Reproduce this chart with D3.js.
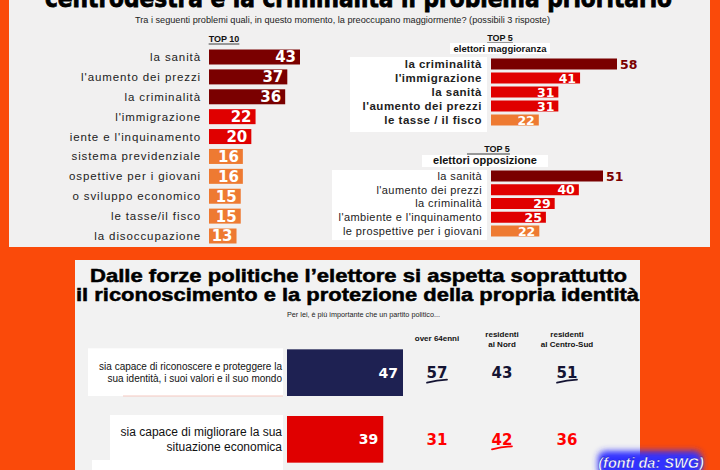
<!DOCTYPE html>
<html><head><meta charset="utf-8">
<script src="https://cdn.jsdelivr.net/npm/d3@7"></script>
<style>html,body{margin:0;padding:0;background:#FA4A0A;overflow:hidden}svg{display:block}</style>
</head><body>
<svg id="c" width="720" height="470"></svg>
<script>
// ---------- DATA ----------
const top10Labels = ["la sanità","l'aumento dei prezzi","la criminalità","l'immigrazione","iente e l'inquinamento","sistema previdenziale","ospettive per i giovani","o sviluppo economico","le tasse/il fisco","la disoccupazione"];
const top10Values = [43,37,36,22,20,16,16,15,15,13];
const maggLabels = ["la criminalità","l'immigrazione","la sanità","l'aumento dei prezzi","le tasse / il fisco"];
const maggValues = [58,41,31,31,22];
const oppLabels = ["la sanità","l'aumento dei prezzi","la criminalità","l'ambiente e l'inquinamento","le prospettive per i giovani"];
const oppValues = [51,40,29,25,22];
const partyRows = ["identita","economia"];
const partyLabels = [["sia capace di riconoscere e proteggere la","sua identità, i suoi valori e il suo mondo"],["sia capace di migliorare la sua","situazione economica"]];
const partyValues = [47,39];
const groupNames = [["over 64enni"],["residenti","al Nord"],["residenti","al Centro-Sud"]];
const groupValues = [[57,31],[43,42],[51,36]];
const underlined = [[true,false],[false,true],[true,false]];

const DARK="#7A0000", RED="#E00000", ORANGE="#EE7A32", NAVY="#1E2152";
const svg = d3.select("#c");

// panels
svg.append("rect").attr("x",9).attr("y",0).attr("width",701).attr("height",247).attr("fill","#F1F0F0");
svg.append("rect").attr("x",75).attr("y",260).attr("width",565).attr("height",215).attr("fill","#F2F2F2");

// top title
svg.append("text").attr("x",45).attr("y",7).attr("textLength",627).attr("lengthAdjust","spacingAndGlyphs")
  .attr("font-family","DejaVu Sans").attr("font-weight","bold").attr("font-size",24)
  .attr("fill","#000").attr("stroke","#000").attr("stroke-width",0.8)
  .text("centrodestra e la criminalità il problema prioritario");
svg.append("text").attr("x",135).attr("y",23).attr("textLength",415).attr("lengthAdjust","spacingAndGlyphs")
  .attr("font-family","Liberation Sans").attr("font-size",9.5).attr("fill","#222")
  .text("Tra i seguenti problemi quali, in questo momento, la preoccupano maggiormente? (possibili 3 risposte)");

function underTitle(x, y, txt, x0){
  const t = svg.append("text").attr("x",x).attr("y",y).attr("text-anchor","middle")
    .attr("font-family","Liberation Sans").attr("font-weight","bold").attr("font-size",9).attr("fill","#111").text(txt);
  const w = t.node().getComputedTextLength();
  svg.append("line").attr("x1",x0!==undefined?x0:x-w/2).attr("x2",x+w/2).attr("y1",y+2).attr("y2",y+2)
    .attr("stroke","#111").attr("stroke-width",0.8);
}
underTitle(224,42,"TOP 10");
underTitle(500,41,"TOP 5");
underTitle(497,152,"TOP 5",467);

// subgroup title boxes
svg.append("rect").attr("x",450).attr("y",43).attr("width",100).attr("height",11).attr("fill","#fff");
svg.append("text").attr("x",500).attr("y",52).attr("text-anchor","middle").attr("font-family","Liberation Sans")
  .attr("font-weight","bold").attr("font-size",9.5).attr("fill","#111").text("elettori maggioranza");
svg.append("rect").attr("x",422).attr("y",155).attr("width",126).attr("height",12).attr("fill","#fff");
svg.append("text").attr("x",485).attr("y",164).attr("text-anchor","middle").attr("font-family","Liberation Sans")
  .attr("font-weight","bold").attr("font-size",11).attr("fill","#111").text("elettori opposizione");

// label backgrounds for right charts
svg.append("rect").attr("x",350).attr("y",57).attr("width",137).attr("height",75).attr("fill","#fff");
svg.append("rect").attr("x",332).attr("y",170).attr("width",155).attr("height",70).attr("fill","#fff");

function colorFor(i, nDark, nRed){ return i < nDark ? DARK : (i < nDark + nRed ? RED : ORANGE); }

function hbar(opts){
  const {labels, values, xr, yr, h, nDark, nRed, labelX, labelFont, labelWeight, labelSpacing, valFont, outsideFirst} = opts;
  const x = d3.scaleLinear().domain([0, d3.max(values)]).range(xr);
  const y = d3.scalePoint().domain(labels).range(yr);
  const g = svg.append("g");
  labels.forEach((lab, i) => {
    const v = values[i], cy = y(lab);
    g.append("rect").attr("x",x(0)).attr("y",cy-h/2).attr("width",x(v)-x(0)).attr("height",h)
      .attr("fill",colorFor(i,nDark,nRed));
    g.append("text").attr("x",labelX).attr("y",cy).attr("dy","0.35em").attr("text-anchor","end")
      .attr("font-family","Liberation Sans").attr("font-weight",labelWeight).attr("font-size",labelFont)
      .attr("letter-spacing",labelSpacing).attr("fill","#222").text(lab);
    const out = outsideFirst && i===0;
    g.append("text").attr("x", out ? x(v)+3 : x(v)-4).attr("y",cy).attr("dy","0.36em")
      .attr("text-anchor", out ? "start" : "end")
      .attr("font-family","DejaVu Sans").attr("font-weight","bold").attr("font-size",valFont)
      .attr("fill", out ? DARK : "#fff").text(v);
  });
}
hbar({labels:top10Labels, values:top10Values, xr:[209,300], yr:[57,236], h:15, nDark:3, nRed:2,
  labelX:201, labelFont:11.5, labelWeight:"normal", labelSpacing:0.9, valFont:15});
hbar({labels:maggLabels, values:maggValues, xr:[491,617], yr:[64,120], h:11, nDark:1, nRed:3,
  labelX:482, labelFont:11.5, labelWeight:"bold", labelSpacing:0.5, valFont:12.5, outsideFirst:true});
hbar({labels:oppLabels, values:oppValues, xr:[491,603], yr:[176,231], h:11, nDark:1, nRed:3,
  labelX:482, labelFont:11, labelWeight:"normal", labelSpacing:0.4, valFont:12.5, outsideFirst:true});

// ---------- bottom panel ----------
const bt = svg.append("g").attr("font-family","Liberation Sans").attr("font-weight","bold").attr("fill","#000")
  .attr("stroke","#000").attr("stroke-width",0.5).attr("font-size",19);
bt.append("text").attr("x",90).attr("y",282).attr("textLength",537).attr("lengthAdjust","spacingAndGlyphs")
  .text("Dalle forze politiche l’elettore si aspetta soprattutto");
bt.append("text").attr("x",76).attr("y",301).attr("textLength",563).attr("lengthAdjust","spacingAndGlyphs")
  .text("il riconoscimento e la protezione della propria identità");
svg.append("text").attr("x",287).attr("y",317).attr("textLength",153).attr("lengthAdjust","spacingAndGlyphs")
  .attr("font-family","Liberation Sans").attr("font-size",8).attr("fill","#222")
  .text("Per lei, è più importante che un partito politico...");

const px = d3.scaleLinear().domain([0, d3.max(partyValues)]).range([287,403]);
const py = d3.scaleBand().domain(partyRows).range([346,466]).paddingInner(0.3).paddingOuter(0.05);
const gx = d3.scalePoint().domain(d3.range(groupNames.length)).range([437,567]);
const rowColor = [NAVY, RED], valColor = ["#141433", "#FF0000"];
const bw = py.bandwidth();

// label white boxes
partyRows.forEach((r, i) => {
  const y0 = py(r);
  svg.append("rect").attr("x", i===0 ? 88 : 110).attr("y", y0-1).attr("width", i===0?195:173).attr("height", bw+1).attr("fill","#fff");
  svg.append("line").attr("x1", i===0 ? 123 : 163).attr("x2",283).attr("y1",y0+bw).attr("y2",y0+bw)
    .attr("stroke","#F4C8C0").attr("stroke-width",1);
});
svg.append("rect").attr("x",92).attr("y",460).attr("width",191).attr("height",12).attr("fill","#fff");

partyRows.forEach((r, i) => {
  const y0 = py(r), cy = y0 + bw/2;
  svg.append("rect").attr("x",px(0)).attr("y",y0).attr("width",px(partyValues[i])-px(0)).attr("height",bw)
    .attr("fill",rowColor[i]);
  svg.append("text").attr("x",px(partyValues[i])-5).attr("y",cy).attr("dy","0.36em").attr("text-anchor","end")
    .attr("font-family","DejaVu Sans").attr("font-weight","bold").attr("font-size",14).attr("fill","#fff")
    .text(partyValues[i]);
  const lines = partyLabels[i], lh = i===0 ? 12 : 15, fs = i===0 ? 10 : 12;
  lines.forEach((ln, k) => {
    svg.append("text").attr("x",282).attr("y", cy - (lines.length-1)*lh/2 + k*lh).attr("dy","0.35em")
      .attr("text-anchor","end").attr("font-family","Liberation Sans").attr("font-size",fs).attr("fill","#111")
      .text(ln);
  });
});

// group columns
groupNames.forEach((lines, j) => {
  const cx = gx(j);
  lines.forEach((ln, k) => {
    svg.append("text").attr("x",cx).attr("y", (lines.length===1 ? 341 : 337) + k*10).attr("text-anchor","middle")
      .attr("font-family","Liberation Sans").attr("font-weight","bold").attr("font-size",8).attr("fill","#111").text(ln);
  });
  partyRows.forEach((r, i) => {
    const cy = py(r) + bw/2;
    svg.append("text").attr("x",cx).attr("y",cy).attr("dy","0.36em").attr("text-anchor","middle")
      .attr("font-family","DejaVu Sans").attr("font-weight","bold").attr("font-size",15).attr("fill",valColor[i])
      .text(groupValues[j][i]);
    if (underlined[j][i]) {
      svg.append("path").attr("d", `M${cx-10},${cy+10} Q${cx},${cy+7.5} ${cx+10},${cy+7}`)
        .attr("fill","none").attr("stroke",valColor[i]).attr("stroke-width",1.8).attr("stroke-linecap","round");
    }
  });
});

// source label with blue glow
const defs = svg.append("defs");
const f = defs.append("filter").attr("id","glow").attr("x","-30%").attr("y","-60%").attr("width","160%").attr("height","220%");
f.append("feGaussianBlur").attr("stdDeviation",3);
svg.append("rect").attr("x",598).attr("y",451).attr("width",104).attr("height",26).attr("rx",8)
  .attr("fill","#3030FF").attr("filter","url(#glow)");
svg.append("text").attr("x",651).attr("y",468).attr("text-anchor","middle").attr("font-family","Liberation Sans")
  .attr("font-weight","bold").attr("font-style","italic").attr("font-size",14.5).attr("fill","#fff")
  .attr("stroke","#1010C0").attr("stroke-width",0.4).text("(fonti da: SWG)");
</script>
</body></html>
